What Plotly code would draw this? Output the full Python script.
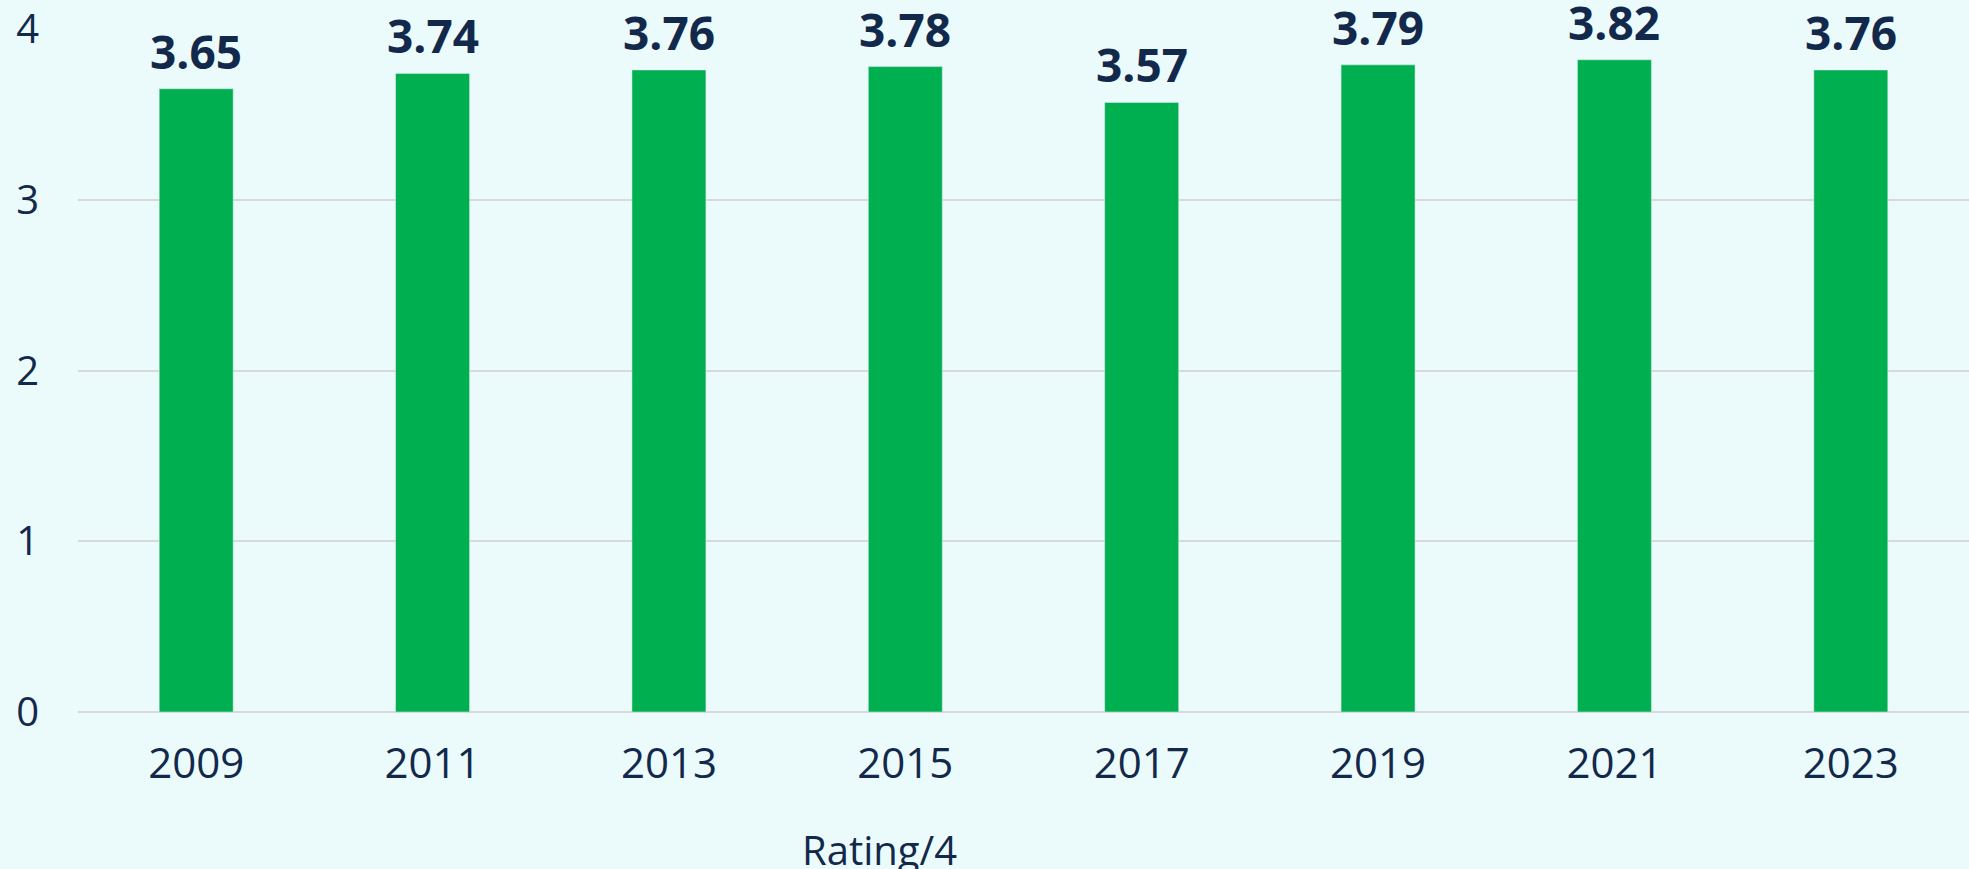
import plotly.graph_objects as go

years = ["2009", "2011", "2013", "2015", "2017", "2019", "2021", "2023"]
ratings = [3.65, 3.74, 3.76, 3.78, 3.57, 3.79, 3.82, 3.76]
y_ticks = [0, 1, 2, 3, 4]

navy = "#13294B"
font = "Open Sans, Lato, sans-serif"
bg = "#EBFBFB"

fig = go.Figure(
    go.Bar(
        x=years,
        y=ratings,
        marker_color="#00B050",
        cliponaxis=False,
    )
)

# value labels above the bars (category index, since numeric strings get read as indices)
for i, v in enumerate(ratings):
    fig.add_annotation(
        x=i,
        y=v,
        text=f"{v:.2f}",
        yanchor="bottom",
        yshift=5,
        showarrow=False,
        font=dict(size=46, color=navy, family=font, weight="bold"),
    )

fig.update_layout(
    width=1969,
    height=869,
    margin=dict(l=78, r=0, t=29, b=157),
    paper_bgcolor=bg,
    plot_bgcolor=bg,
    bargap=0.687,
    showlegend=False,
    font=dict(family=font, color=navy),
)
fig.update_xaxes(
    type="category",
    categoryorder="array",
    categoryarray=years,
    tickfont=dict(size=42, color=navy),
    ticklabelstandoff=23,
    showgrid=False,
)
fig.update_yaxes(
    range=[0, 4],
    tickvals=y_ticks,
    tickfont=dict(size=40, color=navy),
    ticklabelstandoff=38,
    showgrid=True,
    gridcolor="#D9D9D9",
    gridwidth=2,
    zeroline=True,
    zerolinecolor="#D9D9D9",
    zerolinewidth=2,
)
fig.add_annotation(
    text="Rating/4",
    x=0.424,
    xref="paper",
    y=-0.158,
    yref="paper",
    yanchor="top",
    showarrow=False,
    font=dict(size=40, color=navy, family=font),
)

fig.write_html(
    "out.html",
    config={"displayModeBar": False},
    post_script="document.body.style.margin='0';",
)
